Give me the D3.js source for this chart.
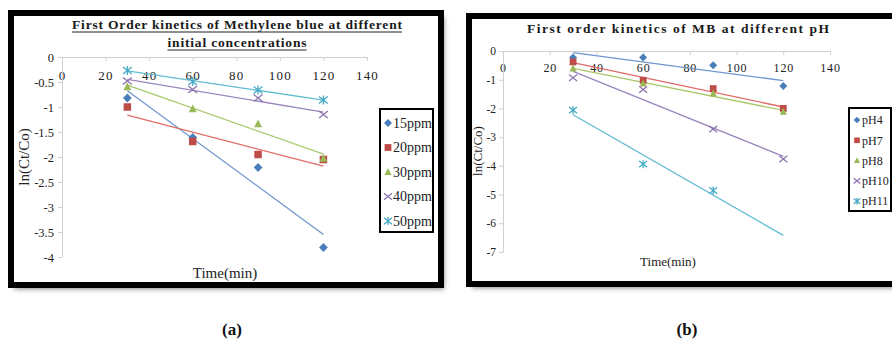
<!DOCTYPE html>
<html>
<head>
<meta charset="utf-8">
<script src="https://cdn.jsdelivr.net/npm/d3@7"></script>
<style>
  body { margin: 0; background: #fff; }
  svg { display: block; }
  text { font-family: "Liberation Serif", "Times New Roman", serif; }
</style>
</head>
<body>
<svg id="chart" width="892" height="339"></svg>
<script>
// values
const timesMin = [30, 60, 90, 120];
const xTicks = [0, 20, 40, 60, 80, 100, 120, 140];

const concLabels = ["15ppm", "20ppm", "30ppm", "40ppm", "50ppm"];
const conc15 = [-0.82, -1.61, -2.21, -3.81];
const conc20 = [-1.00, -1.69, -1.95, -2.05];
const conc30 = [-0.60, -1.04, -1.34, -2.03];
const conc40 = [-0.48, -0.65, -0.82, -1.15];
const conc50 = [-0.27, -0.49, -0.66, -0.86];
const yTicksA = [0, -0.5, -1, -1.5, -2, -2.5, -3, -3.5, -4];

const phLabels = ["pH4", "pH7", "pH8", "pH10", "pH11"];
const ph4 = [-0.23, -0.23, -0.50, -1.22];
const ph7 = [-0.38, -1.02, -1.31, -2.00];
const ph8 = [-0.61, -1.13, -1.48, -2.12];
const ph10 = [-0.93, -1.34, -2.72, -3.76];
const ph11 = [-2.06, -3.94, -4.86, null];
const yTicksB = [0, -1, -2, -3, -4, -5, -6, -7];

const colors = ["#4a7ebb", "#be4b48", "#98b954", "#8d74b0", "#46aac5"];
const lineColors = ["#6f97cf", "#df6b68", "#a9c96b", "#9a86bd", "#5fbcd3"];
const shapes = ["diamond", "square", "triangle", "x", "star"];
const serif = "'Liberation Serif', 'Times New Roman', serif";

const svg = d3.select("#chart");

// drop shadow for the frames
const defs = svg.append("defs");
defs.append("filter").attr("id", "blur")
    .attr("x", "-10%").attr("y", "-10%").attr("width", "120%").attr("height", "120%")
  .append("feGaussianBlur").attr("stdDeviation", 2.5);

function marker(g, shape, color, cx, cy, s) {
    if (shape === "diamond") {
        g.append("path").attr("d", `M${cx},${cy - s}L${cx + s},${cy}L${cx},${cy + s}L${cx - s},${cy}Z`).attr("fill", color);
    } else if (shape === "square") {
        g.append("rect").attr("x", cx - s * 0.85).attr("y", cy - s * 0.85)
            .attr("width", s * 1.7).attr("height", s * 1.7).attr("fill", color);
    } else if (shape === "triangle") {
        g.append("path").attr("d", `M${cx},${cy - s}L${cx + s * 0.9},${cy + s * 0.75}L${cx - s * 0.9},${cy + s * 0.75}Z`).attr("fill", color);
    } else {
        let d = `M${cx - s},${cy - s * 0.8}L${cx + s},${cy + s * 0.8}M${cx - s},${cy + s * 0.8}L${cx + s},${cy - s * 0.8}`;
        if (shape === "star") d += `M${cx},${cy - s}L${cx},${cy + s}`;
        g.append("path").attr("d", d).attr("stroke", color).attr("stroke-width", 1.3).attr("fill", "none");
    }
}

function regression(xs, ys) {
    const pts = xs.map((x, i) => [x, ys[i]]).filter(p => p[1] !== null);
    const mx = d3.mean(pts, p => p[0]), my = d3.mean(pts, p => p[1]);
    const slope = d3.sum(pts, p => (p[0] - mx) * (p[1] - my)) / d3.sum(pts, p => (p[0] - mx) ** 2);
    return x => my + slope * (x - mx);
}

function drawPanel(cfg) {
    const g = svg.append("g");

    // frame + shadow
    g.append("rect").attr("x", cfg.frame[0] + 3).attr("y", cfg.frame[1] + 4)
        .attr("width", cfg.frame[2]).attr("height", cfg.frame[3])
        .attr("fill", "#888").attr("filter", "url(#blur)");
    g.append("rect").attr("x", cfg.frame[0]).attr("y", cfg.frame[1])
        .attr("width", cfg.frame[2]).attr("height", cfg.frame[3])
        .attr("fill", "#fff").attr("stroke", "#000").attr("stroke-width", 6);

    const x = d3.scaleLinear().domain([0, 140]).range(cfg.xRange);
    const y = d3.scaleLinear().domain([0, cfg.yTicks[cfg.yTicks.length - 1]]).range(cfg.yRange);

    // axes
    const xAxis = g.append("g").attr("transform", `translate(0,${y(0)})`)
        .call(d3.axisBottom(x).tickValues(xTicks).tickSize(4).tickSizeOuter(0).tickPadding(cfg.xPad));
    const yAxis = g.append("g").attr("transform", `translate(${x(0)},0)`)
        .call(d3.axisLeft(y).tickValues(cfg.yTicks).tickSize(4).tickSizeOuter(0).tickPadding(cfg.yPad).tickFormat(d => d));
    [xAxis, yAxis].forEach(a => {
        a.selectAll("path, line").attr("stroke", "#d0d0d0");
        a.attr("font-family", serif);
        a.selectAll("text").attr("fill", "#222").style("font-family", serif);
    });
    xAxis.attr("font-size", cfg.xFont).selectAll("text").attr("letter-spacing", cfg.xSpacing);
    yAxis.attr("font-size", cfg.yFont);

    // trendlines then markers
    cfg.series.forEach((vals, i) => {
        const f = regression(timesMin, vals);
        g.append("line")
            .attr("x1", x(30)).attr("y1", y(f(30)))
            .attr("x2", x(120)).attr("y2", y(f(120)))
            .attr("stroke", lineColors[i]).attr("stroke-width", 1.3);
    });
    cfg.series.forEach((vals, i) => {
        vals.forEach((v, j) => {
            if (v === null) return;
            marker(g, shapes[i], colors[i], x(timesMin[j]), y(v), cfg.markSize);
        });
    });

    // titles
    cfg.title.forEach((t, k) => {
        g.append("text").attr("x", cfg.titleX).attr("y", cfg.titleY + k * 18)
            .attr("text-anchor", "middle").attr("font-weight", "bold")
            .attr("font-size", cfg.titleFont).attr("fill", "#1a1a1a")
            .attr("textLength", cfg.titleLen[k]).attr("lengthAdjust", "spacing").text(t);
        if (cfg.underline) {
            g.append("line")
                .attr("x1", cfg.titleX - cfg.titleLen[k] / 2).attr("x2", cfg.titleX + cfg.titleLen[k] / 2)
                .attr("y1", cfg.titleY + k * 18 + 3).attr("y2", cfg.titleY + k * 18 + 3)
                .attr("stroke", "#222").attr("stroke-width", 1);
        }
    });
    g.append("text").attr("transform", `translate(${cfg.yLabel[0]},${cfg.yLabel[1]}) rotate(-90)`)
        .attr("text-anchor", "middle").attr("font-size", cfg.labelFont).attr("fill", "#222").text("ln(Ct/Co)");
    g.append("text").attr("x", cfg.xLabel[0]).attr("y", cfg.xLabel[1])
        .attr("text-anchor", "middle").attr("font-size", cfg.labelFont).attr("fill", "#222").text("Time(min)");

    // legend
    const L = cfg.legend;
    g.append("rect").attr("x", L.x).attr("y", L.y).attr("width", L.w).attr("height", L.h)
        .attr("fill", "#fff").attr("stroke", "#000").attr("stroke-width", 2);
    cfg.labels.forEach((lab, i) => {
        const cy = L.y0 + i * L.step;
        marker(g, shapes[i], colors[i], L.mx, cy, L.ms);
        g.append("text").attr("x", L.tx).attr("y", cy).attr("dy", "0.35em")
            .attr("font-size", L.font).attr("fill", "#222").text(lab);
    });

    // panel letter
    g.append("text").attr("x", cfg.letter[0]).attr("y", cfg.letter[1])
        .attr("text-anchor", "middle").attr("font-weight", "bold").attr("font-size", 17)
        .attr("fill", "#111").text(cfg.letter[2]);
}

drawPanel({
    frame: [11, 13, 430, 272],
    xRange: [62, 367], yRange: [57, 257], yTicks: yTicksA,
    xPad: 10, yPad: 4, xFont: 13, xSpacing: 1.2, yFont: 12.5,
    series: [conc15, conc20, conc30, conc40, conc50], labels: concLabels,
    markSize: 4.4,
    title: ["First Order kinetics of Methylene blue at different", "initial concentrations"],
    titleX: 237, titleY: 29, titleFont: 13.5, titleLen: [330, 139], underline: true,
    yLabel: [29, 157], xLabel: [225, 278], labelFont: 15,
    legend: { x: 380, y: 109, w: 53, h: 123, y0: 123, step: 24.5, mx: 388, ms: 4, tx: 393, font: 14 },
    letter: [232, 335, "(a)"]
});

drawPanel({
    frame: [469, 16, 450, 268],
    xRange: [503, 830], yRange: [51, 252], yTicks: yTicksB,
    xPad: 8, yPad: 3, xFont: 12, xSpacing: 0.8, yFont: 11.5,
    series: [ph4, ph7, ph8, ph10, ph11], labels: phLabels,
    markSize: 4,
    title: ["First order kinetics of MB at different pH"],
    titleX: 678, titleY: 33, titleFont: 13.5, titleLen: [302], underline: false,
    yLabel: [482, 151], xLabel: [668, 266], labelFont: 13,
    legend: { x: 849, y: 108, w: 42, h: 103, y0: 120, step: 20.3, mx: 857, ms: 3.3, tx: 862, font: 12 },
    letter: [687, 335, "(b)"]
});
</script>
</body>
</html>
